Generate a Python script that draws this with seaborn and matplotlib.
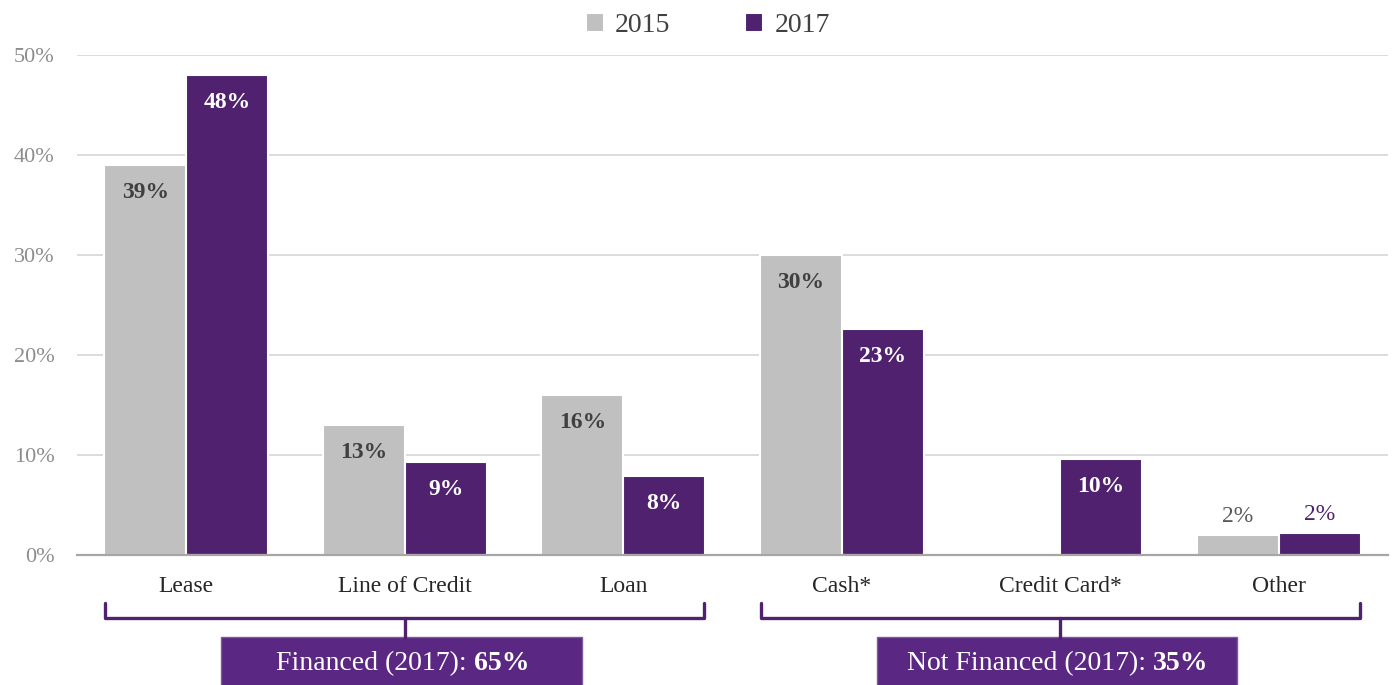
import numpy as np
import pandas as pd
import matplotlib.pyplot as plt
import seaborn as sns
from matplotlib.patches import Rectangle
from matplotlib.offsetbox import TextArea, HPacker, AnnotationBbox

# -----------------------------
# data
# -----------------------------
categories = ["Lease", "Line of Credit", "Loan", "Cash*", "Credit Card*", "Other"]
years = ["2015", "2017"]
values_2015 = [39, 13, 16, 30, np.nan, 2]
values_2017 = [48, 9.3, 7.9, 22.6, 9.6, 2.2]
labels_2015 = ["39%", "13%", "16%", "30%", "", "2%"]
labels_2017 = ["48%", "9%", "8%", "23%", "10%", "2%"]
groups = ["Financed (2017): ", "Not Financed (2017): "]
group_totals = ["65%", "35%"]

df = pd.DataFrame({
    "Category": categories * 2,
    "Year": [years[0]] * 6 + [years[1]] * 6,
    "Share": values_2015 + values_2017,
})

GRAY = "#c0c0c0"
PURPLE = "#4f216e"
BOX = "#5a2883"
FONT = ["Liberation Serif", "DejaVu Serif"]

# -----------------------------
# style
# -----------------------------
sns.set_theme(style="white")
plt.rcParams["font.family"] = FONT

fig = plt.figure(figsize=(13.93, 6.85), dpi=100)
ax = fig.add_axes([0.0553, 0.1898, 0.9411, 0.7299])

sns.barplot(data=df, x="Category", y="Share", hue="Year", order=categories,
            hue_order=years, palette=[GRAY, PURPLE], width=0.75,
            edgecolor="white", linewidth=1.5, saturation=1, ax=ax)

ax.set_xlim(-0.5, 5.5)
ax.set_ylim(0, 50)
ax.set_yticks(range(0, 51, 10))
ax.set_yticklabels([f"{v}%" for v in range(0, 51, 10)], color="#8c8c8c", fontsize=16)
ax.tick_params(axis="y", length=0, pad=16)
ax.tick_params(axis="x", length=0, pad=15, labelsize=17, labelcolor="#262626")
ax.set_xlabel("")
ax.set_ylabel("")
ax.yaxis.grid(True, color="#d9d9d9", linewidth=1.3)
ax.set_axisbelow(True)
for s in ["top", "right", "left"]:
    ax.spines[s].set_visible(False)
ax.spines["bottom"].set_color("#a6a6a6")
ax.spines["bottom"].set_linewidth(1.6)

# -----------------------------
# value labels
# -----------------------------
for cont, labs, inner, outer in zip(ax.containers, [labels_2015, labels_2017],
                                    ["#404040", "white"], ["#595959", PURPLE]):
    for bar in cont:
        h = bar.get_height()
        cx = bar.get_x() + bar.get_width() / 2
        lab = labs[int(round(cx))]
        if not lab or np.isnan(h):
            continue
        if h > 5:
            ax.annotate(lab, (cx, h), xytext=(0, -20), textcoords="offset points",
                        ha="center", va="center", fontsize=17, fontweight="bold", color=inner)
        else:
            ax.annotate(lab, (cx, h), xytext=(0, 13), textcoords="offset points",
                        ha="center", va="center", fontsize=17, color=outer)

# -----------------------------
# legend
# -----------------------------
handles, _ = ax.get_legend_handles_labels()
ax.legend(handles, years, loc="upper center", bbox_to_anchor=(0.508, 1.017),
          bbox_transform=fig.transFigure, ncol=2, frameon=False, fontsize=20,
          handlelength=0.65, handleheight=0.65, handletextpad=0.4,
          columnspacing=2.7, labelcolor="#404040")

# -----------------------------
# brackets + group boxes
# -----------------------------
for (x0, x1), name, total in zip([(-0.37, 2.37), (2.63, 5.37)], groups, group_totals):
    xm = (x0 + x1) / 2
    ax.plot([x0, x0, x1, x1], [-4.8, -6.3, -6.3, -4.8], color=PURPLE,
            lw=2.4, clip_on=False, solid_joinstyle="round")
    ax.plot([xm, xm], [-6.3, -8.3], color=PURPLE, lw=2.4, clip_on=False)
    ax.add_patch(Rectangle((xm - 0.84, -14), 1.65, 5.8, facecolor=BOX,
                           edgecolor="#7a5a9a", lw=1, clip_on=False))
    t1 = TextArea(name, textprops=dict(color="white", fontsize=20, family=FONT))
    t2 = TextArea(total, textprops=dict(color="white", fontsize=20, fontweight="bold", family=FONT))
    pack = HPacker(children=[t1, t2], pad=0, sep=0, align="baseline")
    ab = AnnotationBbox(pack, (xm - 0.01, -10.9), frameon=False, box_alignment=(0.5, 0.5),
                        annotation_clip=False)
    ax.add_artist(ab)

fig.savefig("out.png", dpi=100)
